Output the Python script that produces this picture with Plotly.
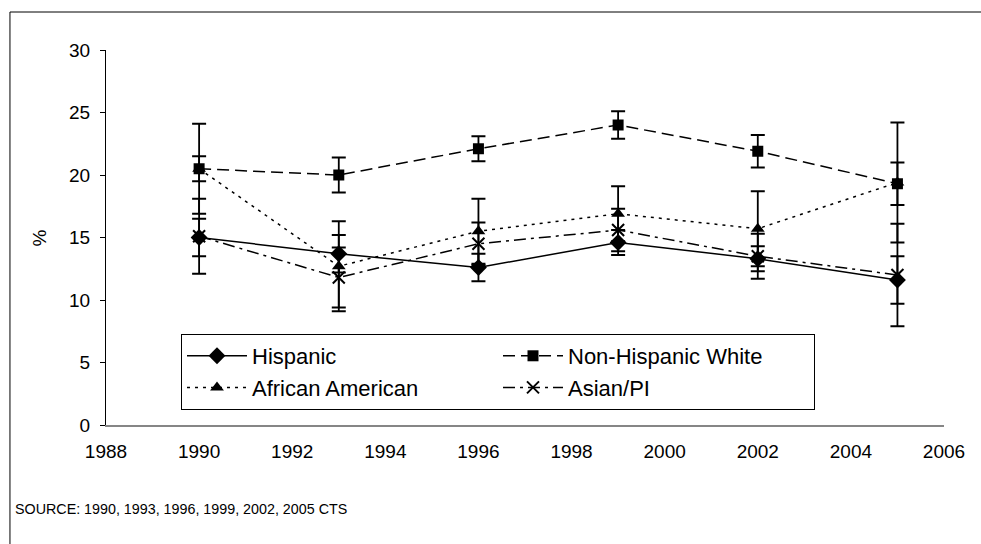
import plotly.graph_objects as go

# Survey years and prevalence (%) by race/ethnicity, with 95% CI half-widths
years = [1990, 1993, 1996, 1999, 2002, 2005]

hispanic = [15.0, 13.7, 12.6, 14.6, 13.3, 11.6]
hispanic_err = [1.5, 1.5, 1.1, 1.0, 1.0, 1.9]

nh_white = [20.5, 20.0, 22.1, 24.0, 21.9, 19.3]
nh_white_err = [1.0, 1.4, 1.0, 1.1, 1.3, 1.7]

african_american = [20.5, 12.7, 15.5, 16.9, 15.7, 19.4]
african_american_err = [3.6, 3.6, 2.6, 2.2, 3.0, 4.8]

asian_pi = [15.1, 11.8, 14.5, 15.6, 13.5, 12.0]
asian_pi_err = [3.0, 2.4, 1.7, 1.7, 1.8, 4.1]

y_ticks = [0, 5, 10, 15, 20, 25, 30]
x_ticks = list(range(1988, 2007, 2))

FONT = "Liberation Sans, Arial, sans-serif"


def series(name, y, err, dash, symbol, size):
    return go.Scatter(
        x=years, y=y, name=name, mode="lines+markers",
        line=dict(color="black", width=1.5, dash=dash),
        marker=dict(symbol=symbol, size=size, color="black",
                    line=dict(color="black", width=2 if "x" in symbol else 0)),
        error_y=dict(type="data", array=err, visible=True,
                     color="black", thickness=1.8, width=7),
    )


fig = go.Figure()
fig.add_trace(series("African American", african_american, african_american_err,
                     "3px,5px", "triangle-up", 12))
fig.add_trace(series("Asian/PI", asian_pi, asian_pi_err,
                     "12px,5px,3px,5px", "x-thin", 12))
fig.add_trace(series("Hispanic", hispanic, hispanic_err,
                     "solid", "diamond", 13))
fig.add_trace(series("Non-Hispanic White", nh_white, nh_white_err,
                     "12px,6px", "square", 11))

# legend order: Hispanic, Non-Hispanic White / African American, Asian/PI
order = {"Hispanic": 1, "Non-Hispanic White": 2, "African American": 3, "Asian/PI": 4}
for tr in fig.data:
    tr.legendrank = order[tr.name]

fig.update_layout(
    width=981, height=544,
    margin=dict(l=106, r=37, t=50, b=119),
    paper_bgcolor="white", plot_bgcolor="white",
    font=dict(family=FONT, size=19, color="black"),
    showlegend=True,
    legend=dict(
        orientation="h", x=0.0895, y=0.2427, xanchor="left", yanchor="top",
        bgcolor="white", bordercolor="black", borderwidth=1,
        font=dict(size=22), itemwidth=60, entrywidth=241,
        traceorder="normal", tracegroupgap=0,
    ),
    xaxis=dict(
        range=[1988, 2006], tickvals=x_ticks, ticks="", showgrid=False,
        zeroline=False, showline=True, linecolor="#868686", linewidth=1.5,
        ticklabelstandoff=8, tickfont=dict(size=19),
    ),
    yaxis=dict(
        range=[0, 30], tickvals=y_ticks, ticks="outside", ticklen=5,
        tickcolor="black", showgrid=False, zeroline=False, showline=True,
        linecolor="black", linewidth=1, ticklabelstandoff=6,
        tickfont=dict(size=19),
    ),
    shapes=[dict(type="rect", xref="paper", yref="paper",
                 x0=-0.1146, x1=1.2, y0=-0.6, y1=1.1013,
                 line=dict(color="black", width=1), fillcolor="rgba(0,0,0,0)",
                 layer="below")],
    annotations=[
        dict(text="%", xref="paper", yref="paper", x=-0.0788, y=0.5,
             textangle=-90, showarrow=False, font=dict(size=19),
             xanchor="center", yanchor="middle"),
        dict(text="SOURCE: 1990, 1993, 1996, 1999, 2002, 2005 CTS",
             xref="paper", yref="paper", x=-0.111, y=-0.224,
             xanchor="left", yanchor="middle", showarrow=False,
             font=dict(size=14.3)),
    ],
)

fig.write_html("out.html")
